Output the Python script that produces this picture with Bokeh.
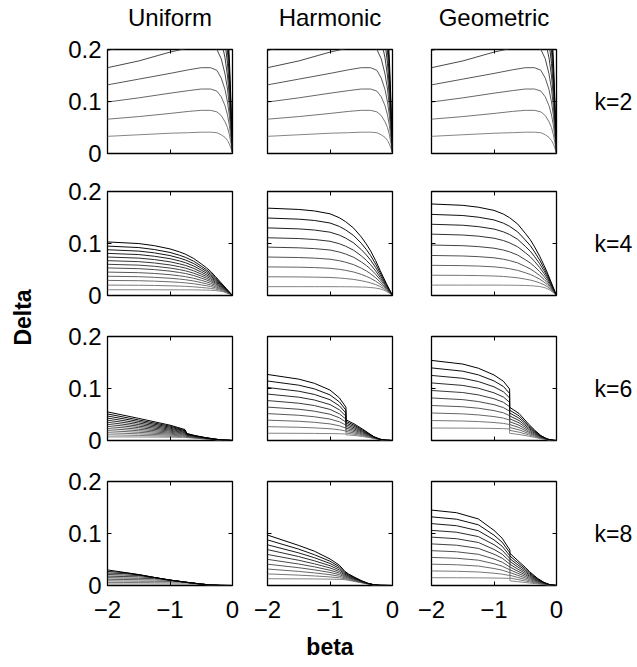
import math
from bokeh.plotting import figure
from bokeh.layouts import gridplot, row
from bokeh.models import Range1d, LinearAxis, FixedTicker, Label, CustomJSTickFormatter
from bokeh.embed import file_html
from bokeh.resources import INLINE

# ---------------- data ----------------
METHODS = ["Uniform", "Harmonic", "Geometric"]
K_LABELS = ["k=2", "k=4", "k=6", "k=8"]
Y_TICKS = [0, 0.1, 0.2]
Y_TICK_LABELS = ["0", "0.1", "0.2"]
X_TICKS = [-2, -1, 0]
X_TICK_LABELS = ["\u22122", "\u22121", "0"]
X_LABEL = "beta"
Y_LABEL = "Delta"

# k=2 (the three k=2 panels look identical)
BETA_K2 = [-2.0, -1.5, -1.0, -0.7, -0.5, -0.35, -0.25, -0.18, -0.12, -0.08, -0.05, -0.025, 0.0]
K2_DELTA = [
    [0.330, 0.356, 0.386, 0.403, 0.413, 0.413, 0.399, 0.363, 0.307, 0.248, 0.182, 0.099, 0.0],
    [0.297, 0.321, 0.347, 0.362, 0.371, 0.371, 0.359, 0.327, 0.276, 0.223, 0.163, 0.089, 0.0],
    [0.264, 0.285, 0.309, 0.322, 0.330, 0.330, 0.319, 0.290, 0.246, 0.198, 0.145, 0.079, 0.0],
    [0.231, 0.249, 0.270, 0.282, 0.289, 0.289, 0.280, 0.254, 0.215, 0.173, 0.127, 0.069, 0.0],
    [0.198, 0.214, 0.232, 0.242, 0.248, 0.248, 0.240, 0.218, 0.184, 0.149, 0.109, 0.059, 0.0],
    [0.165, 0.178, 0.195, 0.203, 0.206, 0.206, 0.200, 0.182, 0.153, 0.124, 0.091, 0.050, 0.0],
    [0.132, 0.143, 0.154, 0.161, 0.165, 0.165, 0.160, 0.145, 0.123, 0.099, 0.073, 0.040, 0.0],
    [0.099, 0.107, 0.116, 0.121, 0.124, 0.124, 0.120, 0.109, 0.092, 0.074, 0.054, 0.030, 0.0],
    [0.066, 0.071, 0.077, 0.081, 0.083, 0.083, 0.080, 0.073, 0.061, 0.050, 0.036, 0.020, 0.0],
    [0.033, 0.036, 0.039, 0.040, 0.041, 0.041, 0.040, 0.036, 0.031, 0.025, 0.018, 0.010, 0.0],
]

# k=4
BETA_K4 = [-2.0, -1.5, -1.25, -1.0, -0.85, -0.75, -0.62, -0.5, -0.42, -0.35, -0.27, -0.2, -0.15, -0.1, -0.05, 0.0]
K4_UNIFORM = [
    [0.103, 0.0999, 0.0958, 0.0896, 0.0839, 0.0793, 0.0711, 0.0608, 0.0536, 0.0464, 0.0361, 0.0268, 0.0201, 0.0134, 0.0067, 0.0],
    [0.095, 0.0922, 0.0884, 0.0828, 0.0775, 0.0733, 0.0659, 0.0564, 0.0498, 0.0432, 0.0338, 0.0252, 0.0190, 0.0127, 0.0063, 0.0],
    [0.088, 0.0854, 0.0820, 0.0768, 0.0720, 0.0682, 0.0613, 0.0526, 0.0466, 0.0405, 0.0318, 0.0238, 0.0180, 0.0120, 0.0060, 0.0],
    [0.081, 0.0787, 0.0755, 0.0708, 0.0665, 0.0630, 0.0567, 0.0488, 0.0433, 0.0377, 0.0297, 0.0224, 0.0170, 0.0114, 0.0057, 0.0],
    [0.074, 0.0719, 0.0691, 0.0648, 0.0609, 0.0578, 0.0521, 0.0450, 0.0400, 0.0350, 0.0277, 0.0210, 0.0161, 0.0108, 0.0054, 0.0],
    [0.067, 0.0651, 0.0626, 0.0588, 0.0554, 0.0526, 0.0475, 0.0412, 0.0367, 0.0322, 0.0257, 0.0196, 0.0151, 0.0102, 0.0051, 0.0],
    [0.060, 0.0584, 0.0562, 0.0528, 0.0498, 0.0474, 0.0429, 0.0374, 0.0334, 0.0294, 0.0237, 0.0182, 0.0141, 0.0095, 0.0048, 0.0],
    [0.053, 0.0516, 0.0498, 0.0469, 0.0443, 0.0422, 0.0384, 0.0335, 0.0301, 0.0267, 0.0217, 0.0168, 0.0131, 0.0089, 0.0045, 0.0],
    [0.045, 0.0439, 0.0424, 0.0400, 0.0379, 0.0362, 0.0331, 0.0292, 0.0264, 0.0235, 0.0193, 0.0152, 0.0120, 0.0082, 0.0041, 0.0],
    [0.037, 0.0362, 0.0350, 0.0332, 0.0316, 0.0303, 0.0279, 0.0248, 0.0226, 0.0204, 0.0170, 0.0136, 0.0109, 0.0074, 0.0038, 0.0],
    [0.029, 0.0284, 0.0276, 0.0263, 0.0252, 0.0243, 0.0226, 0.0204, 0.0189, 0.0172, 0.0147, 0.0120, 0.0098, 0.0067, 0.0034, 0.0],
    [0.020, 0.0197, 0.0193, 0.0186, 0.0181, 0.0176, 0.0167, 0.0155, 0.0146, 0.0137, 0.0121, 0.0102, 0.0086, 0.0059, 0.0030, 0.0],
    [0.011, 0.0110, 0.0110, 0.0109, 0.0109, 0.0109, 0.0108, 0.0106, 0.0104, 0.0101, 0.0095, 0.0084, 0.0073, 0.0051, 0.0026, 0.0],
]
K4_HARMONIC = [
    [0.168, 0.1655, 0.1626, 0.1571, 0.1495, 0.1420, 0.1294, 0.1126, 0.0991, 0.0857, 0.0672, 0.0487, 0.0361, 0.0235, 0.0118, 0.0],
    [0.149, 0.1468, 0.1443, 0.1394, 0.1328, 0.1262, 0.1152, 0.1005, 0.0886, 0.0768, 0.0605, 0.0442, 0.0329, 0.0215, 0.0109, 0.0],
    [0.130, 0.1281, 0.1259, 0.1218, 0.1161, 0.1104, 0.1010, 0.0883, 0.0782, 0.0680, 0.0539, 0.0397, 0.0297, 0.0196, 0.0099, 0.0],
    [0.111, 0.1095, 0.1077, 0.1043, 0.0995, 0.0948, 0.0869, 0.0763, 0.0678, 0.0592, 0.0473, 0.0352, 0.0266, 0.0177, 0.0090, 0.0],
    [0.093, 0.0917, 0.0902, 0.0875, 0.0836, 0.0798, 0.0734, 0.0647, 0.0578, 0.0507, 0.0409, 0.0309, 0.0236, 0.0158, 0.0081, 0.0],
    [0.074, 0.0730, 0.0719, 0.0698, 0.0669, 0.0640, 0.0592, 0.0526, 0.0473, 0.0418, 0.0342, 0.0263, 0.0204, 0.0138, 0.0071, 0.0],
    [0.055, 0.0544, 0.0537, 0.0523, 0.0503, 0.0484, 0.0451, 0.0406, 0.0369, 0.0330, 0.0276, 0.0218, 0.0173, 0.0119, 0.0062, 0.0],
    [0.036, 0.0357, 0.0353, 0.0347, 0.0336, 0.0326, 0.0309, 0.0284, 0.0265, 0.0242, 0.0210, 0.0173, 0.0141, 0.0100, 0.0052, 0.0],
    [0.017, 0.0170, 0.0170, 0.0170, 0.0169, 0.0168, 0.0167, 0.0163, 0.0160, 0.0153, 0.0143, 0.0128, 0.0109, 0.0080, 0.0043, 0.0],
]
K4_GEOMETRIC = [
    [0.176, 0.1734, 0.1698, 0.1637, 0.1566, 0.1496, 0.1373, 0.1197, 0.1074, 0.0933, 0.0757, 0.0581, 0.0449, 0.0299, 0.0150, 0.0],
    [0.156, 0.1538, 0.1506, 0.1453, 0.1391, 0.1330, 0.1222, 0.1068, 0.0961, 0.0837, 0.0682, 0.0526, 0.0409, 0.0274, 0.0138, 0.0],
    [0.137, 0.1351, 0.1324, 0.1278, 0.1224, 0.1172, 0.1079, 0.0946, 0.0853, 0.0746, 0.0611, 0.0475, 0.0370, 0.0249, 0.0126, 0.0],
    [0.118, 0.1163, 0.1141, 0.1102, 0.1057, 0.1013, 0.0935, 0.0824, 0.0745, 0.0654, 0.0539, 0.0423, 0.0332, 0.0225, 0.0114, 0.0],
    [0.097, 0.0958, 0.0940, 0.0910, 0.0874, 0.0839, 0.0777, 0.0689, 0.0626, 0.0554, 0.0461, 0.0365, 0.0290, 0.0198, 0.0101, 0.0],
    [0.077, 0.0760, 0.0747, 0.0725, 0.0698, 0.0672, 0.0626, 0.0559, 0.0512, 0.0457, 0.0386, 0.0310, 0.0249, 0.0173, 0.0089, 0.0],
    [0.058, 0.0574, 0.0566, 0.0551, 0.0533, 0.0515, 0.0483, 0.0438, 0.0405, 0.0366, 0.0315, 0.0259, 0.0211, 0.0149, 0.0077, 0.0],
    [0.039, 0.0387, 0.0383, 0.0375, 0.0366, 0.0356, 0.0340, 0.0315, 0.0297, 0.0275, 0.0243, 0.0207, 0.0172, 0.0124, 0.0066, 0.0],
    [0.020, 0.0200, 0.0200, 0.0200, 0.0199, 0.0198, 0.0196, 0.0193, 0.0189, 0.0183, 0.0172, 0.0155, 0.0134, 0.0100, 0.0054, 0.0],
]

# k=6
BETA_K6_UNIFORM = [-2.0, -1.5, -1.0, -0.8, -0.76, -0.73, -0.6, -0.45, -0.3, -0.15, 0.0]
K6_UNIFORM = [
    [0.055, 0.0425, 0.0295, 0.0225, 0.0210, 0.0135, 0.0095, 0.0060, 0.0030, 0.0008, 0.0],
    [0.051, 0.0395, 0.0276, 0.0211, 0.0197, 0.0128, 0.0091, 0.0058, 0.0029, 0.0008, 0.0],
    [0.047, 0.0366, 0.0257, 0.0198, 0.0185, 0.0122, 0.0087, 0.0055, 0.0028, 0.0007, 0.0],
    [0.043, 0.0336, 0.0237, 0.0184, 0.0172, 0.0115, 0.0083, 0.0053, 0.0027, 0.0007, 0.0],
    [0.039, 0.0306, 0.0218, 0.0170, 0.0160, 0.0108, 0.0078, 0.0050, 0.0026, 0.0007, 0.0],
    [0.035, 0.0276, 0.0199, 0.0156, 0.0147, 0.0102, 0.0074, 0.0048, 0.0025, 0.0007, 0.0],
    [0.031, 0.0247, 0.0180, 0.0143, 0.0135, 0.0095, 0.0070, 0.0045, 0.0024, 0.0006, 0.0],
    [0.027, 0.0217, 0.0160, 0.0129, 0.0122, 0.0088, 0.0066, 0.0043, 0.0022, 0.0006, 0.0],
    [0.023, 0.0187, 0.0141, 0.0115, 0.0109, 0.0082, 0.0062, 0.0040, 0.0021, 0.0006, 0.0],
    [0.019, 0.0157, 0.0122, 0.0101, 0.0097, 0.0075, 0.0058, 0.0038, 0.0020, 0.0006, 0.0],
    [0.015, 0.0128, 0.0103, 0.0088, 0.0084, 0.0068, 0.0053, 0.0035, 0.0019, 0.0005, 0.0],
    [0.011, 0.0098, 0.0083, 0.0074, 0.0072, 0.0062, 0.0049, 0.0032, 0.0018, 0.0005, 0.0],
    [0.007, 0.0068, 0.0064, 0.0060, 0.0059, 0.0055, 0.0045, 0.0030, 0.0017, 0.0005, 0.0],
]
BETA_K6_HARMONIC = [-2.0, -1.5, -1.25, -1.0, -0.85, -0.745, -0.745, -0.6, -0.48, -0.38, -0.3, -0.2, -0.1, 0.0]
K6_HARMONIC = [
    [0.127, 0.118, 0.110, 0.097, 0.082, 0.064, 0.040, 0.031, 0.022, 0.014, 0.0075, 0.0025, 0.0005, 0.0],
    [0.1144, 0.1064, 0.0993, 0.0877, 0.0743, 0.0583, 0.0368, 0.0286, 0.0204, 0.0131, 0.0071, 0.0024, 0.0005, 0.0],
    [0.1019, 0.0948, 0.0886, 0.0784, 0.0667, 0.0526, 0.0336, 0.0262, 0.0188, 0.0122, 0.0067, 0.0023, 0.0005, 0.0],
    [0.0893, 0.0833, 0.0779, 0.0691, 0.0590, 0.0468, 0.0303, 0.0238, 0.0173, 0.0113, 0.0063, 0.0022, 0.0004, 0.0],
    [0.0768, 0.0717, 0.0672, 0.0598, 0.0513, 0.0411, 0.0271, 0.0214, 0.0157, 0.0104, 0.0059, 0.0021, 0.0004, 0.0],
    [0.0642, 0.0601, 0.0564, 0.0505, 0.0437, 0.0354, 0.0239, 0.0191, 0.0141, 0.0094, 0.0054, 0.0019, 0.0004, 0.0],
    [0.0517, 0.0485, 0.0457, 0.0412, 0.0360, 0.0297, 0.0207, 0.0167, 0.0125, 0.0085, 0.0050, 0.0018, 0.0004, 0.0],
    [0.0391, 0.0370, 0.0350, 0.0319, 0.0283, 0.0239, 0.0174, 0.0143, 0.0110, 0.0076, 0.0046, 0.0017, 0.0003, 0.0],
    [0.0266, 0.0254, 0.0243, 0.0226, 0.0207, 0.0182, 0.0142, 0.0119, 0.0094, 0.0067, 0.0042, 0.0016, 0.0003, 0.0],
    [0.0140, 0.0138, 0.0136, 0.0133, 0.0130, 0.0125, 0.0110, 0.0095, 0.0078, 0.0058, 0.0038, 0.0015, 0.0003, 0.0],
]
BETA_K6_GEOMETRIC = [-2.0, -1.5, -1.25, -1.0, -0.85, -0.75, -0.75, -0.6, -0.45, -0.35, -0.25, -0.15, -0.05, 0.0]
K6_GEOMETRIC = [
    [0.154, 0.147, 0.139, 0.126, 0.114, 0.099, 0.064, 0.052, 0.032, 0.020, 0.0095, 0.0030, 0.0003, 0.0],
    [0.1396, 0.1333, 0.1262, 0.1146, 0.1039, 0.0905, 0.0584, 0.0475, 0.0294, 0.0184, 0.0088, 0.0028, 0.0003, 0.0],
    [0.1251, 0.1196, 0.1134, 0.1032, 0.0937, 0.0819, 0.0529, 0.0430, 0.0268, 0.0169, 0.0082, 0.0026, 0.0003, 0.0],
    [0.1107, 0.1059, 0.1005, 0.0917, 0.0836, 0.0734, 0.0473, 0.0385, 0.0242, 0.0153, 0.0075, 0.0024, 0.0003, 0.0],
    [0.0962, 0.0922, 0.0877, 0.0803, 0.0735, 0.0649, 0.0418, 0.0340, 0.0216, 0.0138, 0.0068, 0.0022, 0.0003, 0.0],
    [0.0818, 0.0786, 0.0749, 0.0689, 0.0633, 0.0563, 0.0362, 0.0295, 0.0189, 0.0122, 0.0062, 0.0021, 0.0002, 0.0],
    [0.0673, 0.0649, 0.0621, 0.0575, 0.0532, 0.0478, 0.0307, 0.0250, 0.0163, 0.0107, 0.0055, 0.0019, 0.0002, 0.0],
    [0.0529, 0.0512, 0.0492, 0.0460, 0.0431, 0.0393, 0.0251, 0.0205, 0.0137, 0.0091, 0.0048, 0.0017, 0.0002, 0.0],
    [0.0384, 0.0375, 0.0364, 0.0346, 0.0329, 0.0307, 0.0196, 0.0160, 0.0111, 0.0076, 0.0042, 0.0015, 0.0002, 0.0],
    [0.0240, 0.0238, 0.0236, 0.0232, 0.0228, 0.0222, 0.0140, 0.0115, 0.0085, 0.0060, 0.0035, 0.0013, 0.0002, 0.0],
]

# k=8
BETA_K8_UNIFORM = [-2.0, -1.75, -1.5, -1.25, -1.0, -0.75, -0.5, -0.35, -0.2, 0.0]
K8_UNIFORM = [
    [0.030, 0.0255, 0.0210, 0.0155, 0.0105, 0.0065, 0.0028, 0.0011, 0.0002, 0.0],
    [0.027, 0.0250, 0.0208, 0.0154, 0.0104, 0.0064, 0.0027, 0.0011, 0.0002, 0.0],
    [0.024, 0.0231, 0.0205, 0.0153, 0.0103, 0.0063, 0.0027, 0.0010, 0.0002, 0.0],
    [0.021, 0.0202, 0.0192, 0.0152, 0.0103, 0.0063, 0.0027, 0.0010, 0.0002, 0.0],
    [0.018, 0.0173, 0.0166, 0.0150, 0.0102, 0.0062, 0.0026, 0.0010, 0.0002, 0.0],
    [0.015, 0.0144, 0.0139, 0.0132, 0.0101, 0.0062, 0.0026, 0.0010, 0.0002, 0.0],
    [0.012, 0.0116, 0.0111, 0.0107, 0.0098, 0.0061, 0.0026, 0.0010, 0.0002, 0.0],
    [0.009, 0.0087, 0.0083, 0.0080, 0.0077, 0.0060, 0.0025, 0.0010, 0.0002, 0.0],
    [0.006, 0.0058, 0.0056, 0.0053, 0.0051, 0.0048, 0.0025, 0.0010, 0.0002, 0.0],
    [0.003, 0.0029, 0.0028, 0.0027, 0.0026, 0.0024, 0.0021, 0.0010, 0.0002, 0.0],
]
BETA_K8_HARMONIC = [-2.0, -1.5, -1.25, -1.0, -0.85, -0.76, -0.7, -0.6, -0.5, -0.4, -0.3, -0.2, 0.0]
K8_HARMONIC = [
    [0.097, 0.077, 0.066, 0.051, 0.039, 0.027, 0.022, 0.0155, 0.0095, 0.0045, 0.0015, 0.0003, 0.0],
    [0.0877, 0.0699, 0.0592, 0.0467, 0.0360, 0.0252, 0.0206, 0.0146, 0.0090, 0.0043, 0.0015, 0.0003, 0.0],
    [0.0783, 0.0627, 0.0534, 0.0424, 0.0330, 0.0235, 0.0193, 0.0137, 0.0085, 0.0042, 0.0014, 0.0003, 0.0],
    [0.0690, 0.0556, 0.0475, 0.0381, 0.0299, 0.0217, 0.0179, 0.0128, 0.0081, 0.0040, 0.0014, 0.0003, 0.0],
    [0.0597, 0.0485, 0.0417, 0.0338, 0.0269, 0.0200, 0.0166, 0.0119, 0.0076, 0.0038, 0.0013, 0.0003, 0.0],
    [0.0503, 0.0413, 0.0359, 0.0294, 0.0239, 0.0182, 0.0152, 0.0111, 0.0071, 0.0037, 0.0013, 0.0002, 0.0],
    [0.0410, 0.0342, 0.0301, 0.0251, 0.0209, 0.0165, 0.0139, 0.0102, 0.0066, 0.0035, 0.0012, 0.0002, 0.0],
    [0.0317, 0.0271, 0.0242, 0.0208, 0.0178, 0.0147, 0.0125, 0.0093, 0.0062, 0.0033, 0.0012, 0.0002, 0.0],
    [0.0223, 0.0199, 0.0184, 0.0165, 0.0148, 0.0130, 0.0112, 0.0084, 0.0057, 0.0032, 0.0011, 0.0002, 0.0],
    [0.0130, 0.0128, 0.0126, 0.0122, 0.0118, 0.0112, 0.0098, 0.0075, 0.0052, 0.0030, 0.0011, 0.0002, 0.0],
]
BETA_K8_GEOMETRIC = [-2.0, -1.6, -1.25, -1.0, -0.87, -0.745, -0.745, -0.63, -0.5, -0.43, -0.3, -0.2, -0.1, 0.0]
K8_GEOMETRIC = [
    [0.145, 0.140, 0.128, 0.106, 0.091, 0.068, 0.062, 0.049, 0.035, 0.0265, 0.0135, 0.0060, 0.0013, 0.0],
    [0.132, 0.1275, 0.1167, 0.0968, 0.0833, 0.0626, 0.0567, 0.0449, 0.0321, 0.0243, 0.0125, 0.0056, 0.0012, 0.0],
    [0.119, 0.1150, 0.1053, 0.0877, 0.0756, 0.0571, 0.0514, 0.0407, 0.0292, 0.0222, 0.0114, 0.0051, 0.0011, 0.0],
    [0.106, 0.1025, 0.0940, 0.0785, 0.0679, 0.0517, 0.0461, 0.0366, 0.0262, 0.0200, 0.0104, 0.0047, 0.0010, 0.0],
    [0.093, 0.0900, 0.0827, 0.0694, 0.0602, 0.0463, 0.0408, 0.0324, 0.0233, 0.0178, 0.0093, 0.0042, 0.0009, 0.0],
    [0.080, 0.0775, 0.0714, 0.0602, 0.0526, 0.0409, 0.0355, 0.0283, 0.0204, 0.0157, 0.0083, 0.0038, 0.0009, 0.0],
    [0.067, 0.0649, 0.0600, 0.0510, 0.0449, 0.0354, 0.0302, 0.0241, 0.0175, 0.0135, 0.0072, 0.0033, 0.0008, 0.0],
    [0.054, 0.0524, 0.0487, 0.0419, 0.0372, 0.0300, 0.0249, 0.0200, 0.0146, 0.0113, 0.0062, 0.0029, 0.0007, 0.0],
    [0.041, 0.0399, 0.0374, 0.0327, 0.0295, 0.0246, 0.0196, 0.0158, 0.0116, 0.0091, 0.0051, 0.0024, 0.0006, 0.0],
    [0.028, 0.0274, 0.0260, 0.0236, 0.0218, 0.0191, 0.0143, 0.0117, 0.0087, 0.0070, 0.0041, 0.0020, 0.0005, 0.0],
    [0.015, 0.0149, 0.0147, 0.0144, 0.0141, 0.0137, 0.0090, 0.0075, 0.0058, 0.0048, 0.0030, 0.0015, 0.0004, 0.0],
]

PANELS = [
    [(BETA_K2, K2_DELTA), (BETA_K2, K2_DELTA), (BETA_K2, K2_DELTA)],
    [(BETA_K4, K4_UNIFORM), (BETA_K4, K4_HARMONIC), (BETA_K4, K4_GEOMETRIC)],
    [(BETA_K6_UNIFORM, K6_UNIFORM), (BETA_K6_HARMONIC, K6_HARMONIC), (BETA_K6_GEOMETRIC, K6_GEOMETRIC)],
    [(BETA_K8_UNIFORM, K8_UNIFORM), (BETA_K8_HARMONIC, K8_HARMONIC), (BETA_K8_GEOMETRIC, K8_GEOMETRIC)],
]

# ---------------- layout / style ----------------
FONT = "Liberation Sans"
TICK_FONT_SIZE = "24px"
FRAME_W, FRAME_H = 125, 104
DELTA_W = 48
LEFT = [59, 18, 20]
RIGHT = [17, 19, 78]
TOP = [47, 19, 21, 21]
BOTTOM = [19, 20, 20, 83]
TOTAL_H = sum(TOP) + sum(BOTTOM) + 4 * FRAME_H


def gray(i, n):
    g = int(round(0x84 * i / max(n - 1, 1)))
    return "#%02x%02x%02x" % (g, g, g)


def label_formatter(ticks, labels):
    return CustomJSTickFormatter(
        args=dict(tick_values=ticks, tick_texts=labels),
        code="const i = tick_values.indexOf(tick); return i >= 0 ? tick_texts[i] : '';")


def style_axis(ax, ticks, labels=None, standoff=0, font_size=TICK_FONT_SIZE):
    ax.ticker = FixedTicker(ticks=ticks, minor_ticks=[])
    ax.axis_line_color = None
    ax.major_tick_in = 4
    ax.major_tick_out = 0
    ax.major_tick_line_color = "black"
    ax.major_tick_line_width = 1
    ax.minor_tick_line_color = None
    ax.major_label_standoff = standoff
    if labels is not None:
        ax.formatter = label_formatter(ticks, labels)
        ax.major_label_text_font = FONT
        ax.major_label_text_font_size = font_size
        ax.major_label_text_color = "black"
    else:
        ax.major_label_text_font_size = "1px"
        ax.major_label_text_color = None


figs = []
for r in range(4):
    fig_row = []
    for c in range(3):
        beta, curves = PANELS[r][c]
        p = figure(frame_width=FRAME_W, frame_height=FRAME_H,
                   x_range=Range1d(-2, 0), y_range=Range1d(0, 0.2),
                   output_backend="svg", toolbar_location=None, title=None,
                   min_border_left=LEFT[c], min_border_right=RIGHT[c],
                   min_border_top=TOP[r], min_border_bottom=BOTTOM[r])
        p.grid.visible = False
        p.outline_line_color = "black"
        p.outline_line_width = 1.3
        p.outline_line_alpha = 1.0
        p.background_fill_color = "white"
        p.border_fill_color = "white"

        if c == 0:
            style_axis(p.yaxis[0], Y_TICKS, Y_TICK_LABELS, standoff=6)
        else:
            style_axis(p.yaxis[0], Y_TICKS)
        if r == 3:
            style_axis(p.xaxis[0], X_TICKS, X_TICK_LABELS, standoff=15)
            if c == 1:
                p.xaxis[0].axis_label = X_LABEL
                p.xaxis[0].axis_label_text_font = FONT
                p.xaxis[0].axis_label_text_font_style = "bold"
                p.xaxis[0].axis_label_text_font_size = "23px"
                p.xaxis[0].axis_label_text_color = "black"
                p.xaxis[0].axis_label_standoff = 13
        else:
            style_axis(p.xaxis[0], X_TICKS)

        ax_r = LinearAxis()
        p.add_layout(ax_r, "right")
        if c == 2:
            style_axis(ax_r, [0.1], [K_LABELS[r]], standoff=38, font_size="23px")
        else:
            style_axis(ax_r, Y_TICKS)
        ax_t = LinearAxis()
        p.add_layout(ax_t, "above")
        if r == 0:
            style_axis(ax_t, [-1], [METHODS[c]], standoff=19)
        else:
            style_axis(ax_t, X_TICKS)

        n = len(curves)
        colors = [gray(i, n) for i in range(n)]
        p.multi_line(xs=[beta] * n, ys=list(reversed(curves)),
                     line_color=list(reversed(colors)), line_width=1.0)
        fig_row.append(p)
    figs.append(fig_row)

grid = gridplot(figs, toolbar_location=None)

dfig = figure(width=DELTA_W, height=TOTAL_H, x_range=Range1d(0, DELTA_W),
              y_range=Range1d(0, TOTAL_H), output_backend="svg", toolbar_location=None,
              title=None, x_axis_type=None, y_axis_type=None, min_border=0)
dfig.grid.visible = False
dfig.outline_line_color = None
dfig.border_fill_color = "white"
dfig.background_fill_color = "white"
dfig.add_layout(Label(x=22, y=TOTAL_H - 317, text=Y_LABEL, angle=math.pi / 2,
                      text_align="center", text_baseline="middle", text_font=FONT,
                      text_font_style="bold", text_font_size="23px", text_color="black"))

layout = row(dfig, grid)
open("out.html", "w").write(file_html(layout, INLINE))
